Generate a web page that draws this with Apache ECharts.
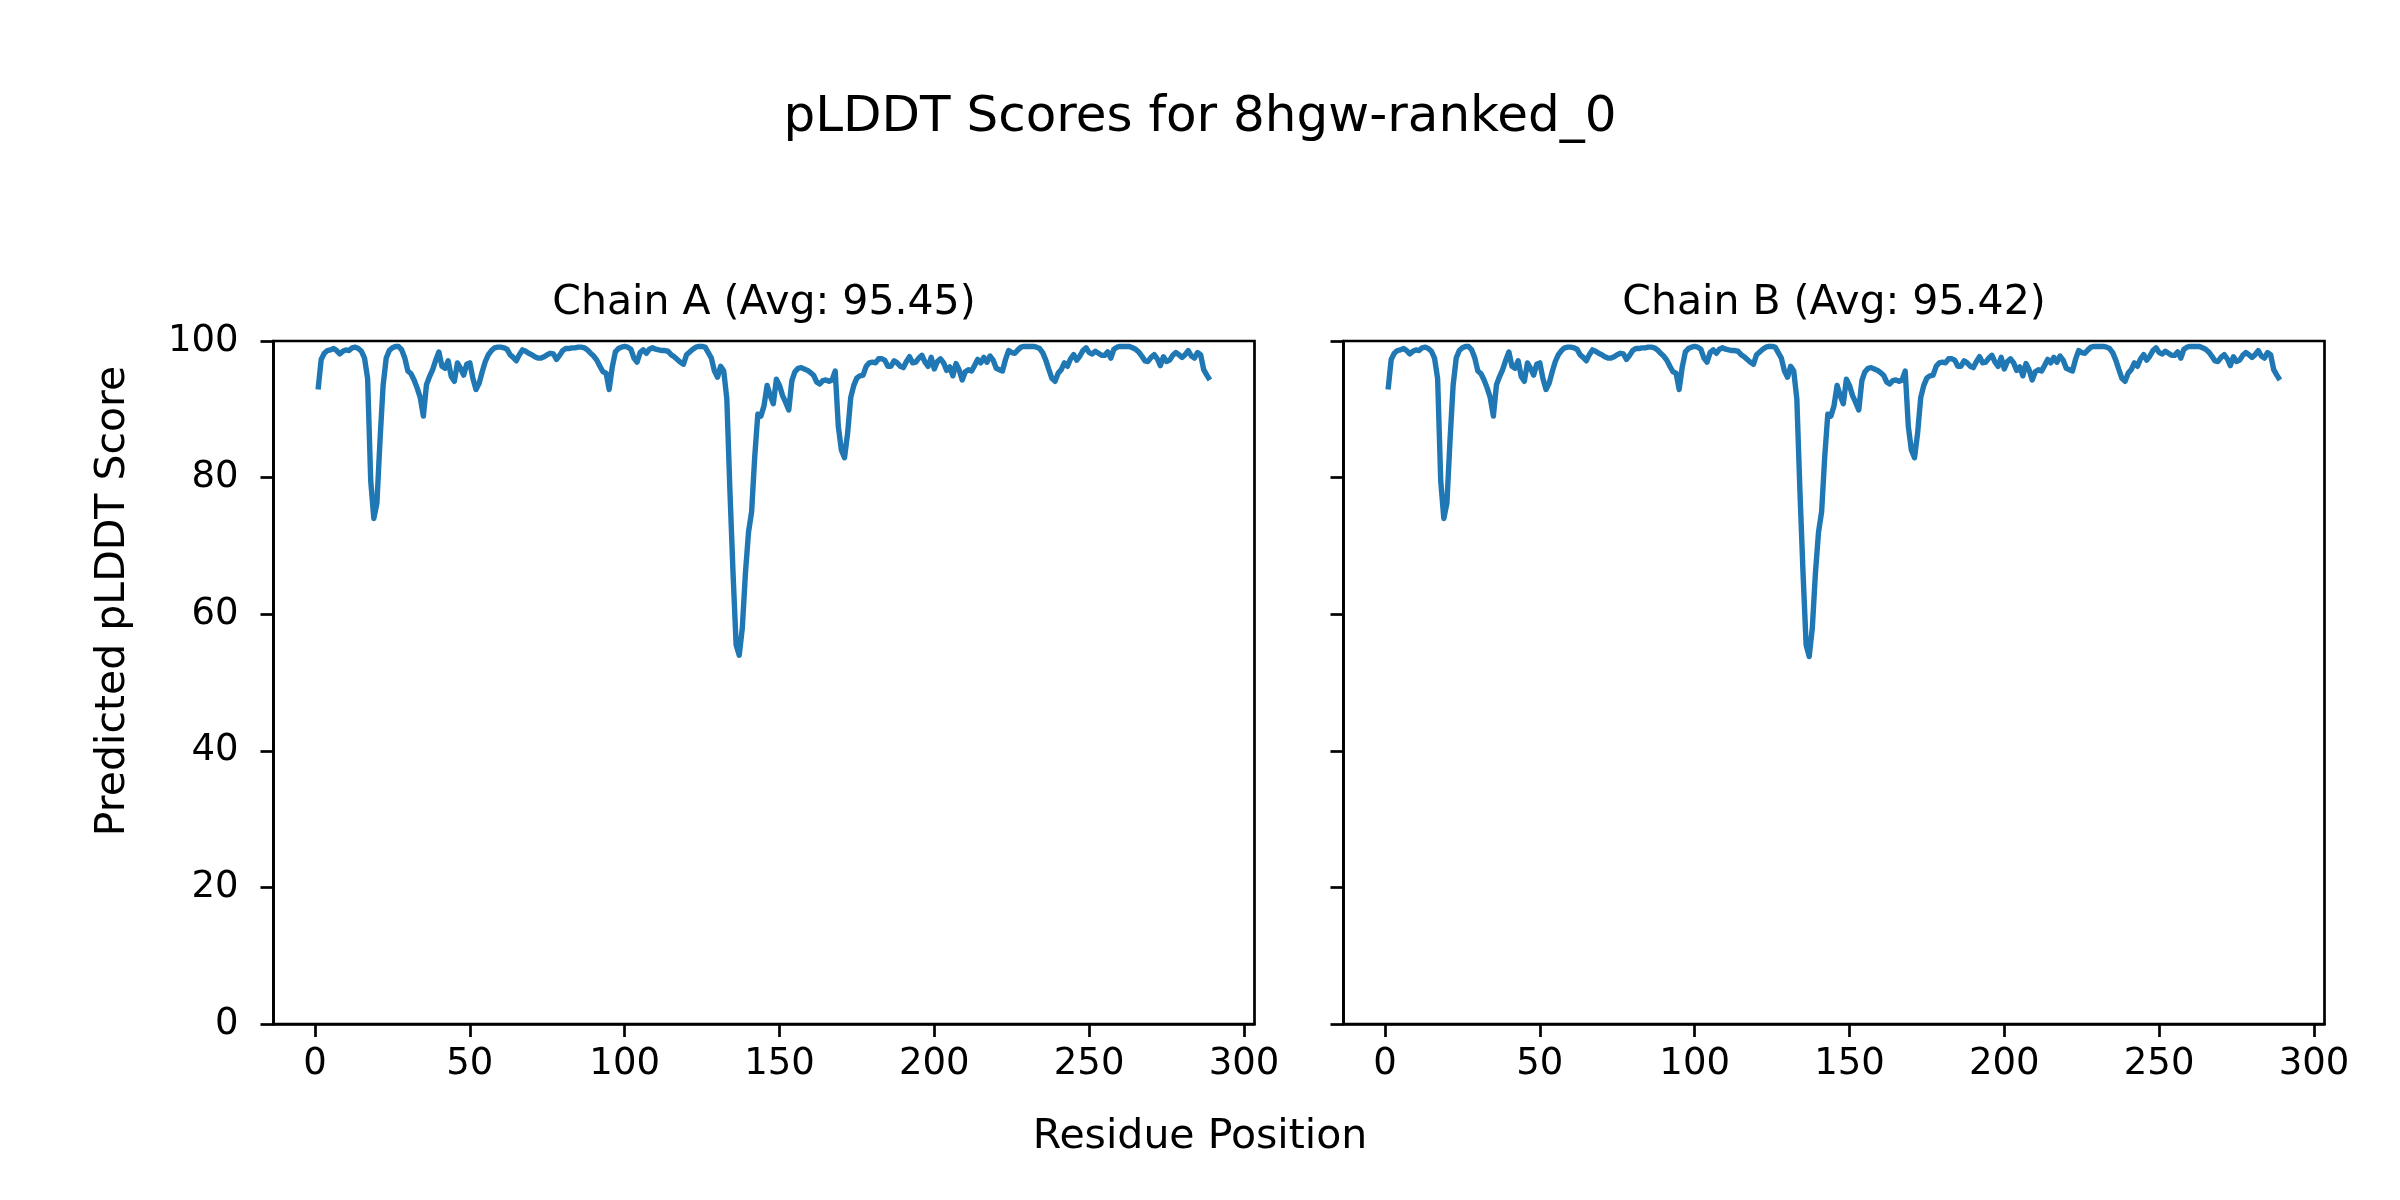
<!DOCTYPE html>
<html>
<head>
<meta charset="utf-8">
<script src="https://cdn.jsdelivr.net/npm/echarts@6/dist/echarts.min.js"></script>
<style>
  html, body { margin: 0; padding: 0; background: #ffffff; }
  #chart { width: 2400px; height: 1200px; }
</style>
</head>
<body>
<div id="chart"></div>
<script>
// ---- Data ----
const suptitle = 'pLDDT Scores for 8hgw-ranked_0';
const chainTitles = ['Chain A (Avg: 95.45)', 'Chain B (Avg: 95.42)'];
const xLabel = 'Residue Position';
const yLabel = 'Predicted pLDDT Score';
const xTicks = [0, 50, 100, 150, 200, 250, 300];
const yTicks = [0, 20, 40, 60, 80, 100];

const chainA = [
  92.9,97.3,98.2,98.6,98.7,98.9,98.6,98.1,98.5,98.7,
  98.6,99.0,99.1,98.9,98.5,97.5,94.5,79.5,74.0,76.3,
  85.5,93.5,97.5,98.6,99.0,99.2,99.2,98.7,97.5,95.6,
  95.2,94.3,93.1,91.7,89.0,93.6,94.8,95.8,97.2,98.4,
  96.3,96.0,97.1,94.8,94.1,96.8,96.0,95.0,96.6,96.8,
  94.5,92.9,93.8,95.5,97.0,98.0,98.6,99.0,99.1,99.1,
  99.0,98.8,98.0,97.6,97.1,98.0,98.7,98.5,98.2,98.0,
  97.7,97.5,97.5,97.7,98.0,98.2,98.1,97.3,97.9,98.6,
  98.9,98.9,99.0,99.0,99.1,99.1,99.0,98.7,98.2,97.8,
  97.2,96.3,95.5,95.3,92.9,96.2,98.4,98.9,99.1,99.2,
  99.1,98.8,97.5,96.9,98.3,98.7,98.2,98.8,99.0,98.8,
  98.7,98.6,98.6,98.5,98.0,97.7,97.3,96.9,96.6,98.0,
  98.4,98.8,99.1,99.2,99.2,99.1,98.3,97.5,95.6,94.7,
  96.3,95.6,91.5,78.0,66.0,55.5,54.0,58.0,66.0,72.0,
  75.0,83.0,89.3,89.0,90.5,93.5,92.0,90.8,94.4,93.5,
  92.0,91.0,89.9,94.2,95.5,96.0,96.1,95.9,95.7,95.4,
  95.0,94.0,93.7,94.2,94.3,94.1,94.3,95.6,87.5,84.0,
  82.9,86.5,91.7,93.5,94.6,94.9,95.0,96.3,96.8,96.9,
  96.8,97.4,97.4,97.2,96.3,96.3,97.1,96.8,96.3,96.1,
  97.0,97.7,96.8,96.9,97.5,97.9,96.9,96.3,97.6,95.9,
  97.0,97.4,96.8,95.7,96.2,94.9,96.7,95.8,94.3,95.5,
  95.8,95.6,96.4,97.3,96.8,97.6,96.9,97.8,97.2,96.0,
  95.8,95.6,97.3,98.6,98.3,98.2,98.7,99.1,99.2,99.2,
  99.2,99.2,99.1,98.9,98.3,97.2,95.8,94.5,94.1,95.3,
  95.8,96.8,96.3,97.4,98.0,97.2,97.8,98.6,99.0,98.3,
  98.1,98.5,98.2,97.9,97.9,98.4,97.5,98.8,99.1,99.2,
  99.2,99.2,99.2,99.0,98.8,98.4,97.8,97.1,97.0,97.6,
  98.0,97.4,96.4,97.7,97.0,97.2,97.9,98.3,98.0,97.6,
  98.0,98.6,97.8,97.5,98.3,98.0,95.8,95.0,94.3
];

const chainB = [
  92.9,97.3,98.2,98.6,98.7,98.9,98.6,98.1,98.5,98.7,
  98.6,99.0,99.1,98.9,98.5,97.5,94.5,79.5,74.0,76.3,
  85.5,93.5,97.5,98.6,99.0,99.2,99.2,98.7,97.5,95.6,
  95.2,94.3,93.1,91.7,89.0,93.6,94.8,95.8,97.2,98.4,
  96.3,96.0,97.1,94.8,94.1,96.8,96.0,95.0,96.6,96.8,
  94.5,92.9,93.8,95.5,97.0,98.0,98.6,99.0,99.1,99.1,
  99.0,98.8,98.0,97.6,97.1,98.0,98.7,98.5,98.2,98.0,
  97.7,97.5,97.5,97.7,98.0,98.2,98.1,97.3,97.9,98.6,
  98.9,98.9,99.0,99.0,99.1,99.1,99.0,98.7,98.2,97.8,
  97.2,96.3,95.5,95.3,92.9,96.2,98.4,98.9,99.1,99.2,
  99.1,98.8,97.5,96.9,98.3,98.7,98.2,98.8,99.0,98.8,
  98.7,98.6,98.6,98.5,98.0,97.7,97.3,96.9,96.6,98.0,
  98.4,98.8,99.1,99.2,99.2,99.1,98.3,97.5,95.6,94.7,
  96.3,95.6,91.5,78.0,66.0,55.5,53.8,58.0,66.0,72.0,
  75.0,83.0,89.3,89.0,90.5,93.5,92.0,90.8,94.4,93.5,
  92.0,91.0,89.9,94.2,95.5,96.0,96.1,95.9,95.7,95.4,
  95.0,94.0,93.7,94.2,94.3,94.1,94.3,95.6,87.5,84.0,
  82.9,86.5,91.7,93.5,94.6,94.9,95.0,96.3,96.8,96.9,
  96.8,97.4,97.4,97.2,96.3,96.3,97.1,96.8,96.3,96.1,
  97.0,97.7,96.8,96.9,97.5,97.9,96.9,96.3,97.6,95.9,
  97.0,97.4,96.8,95.7,96.2,94.9,96.7,95.8,94.3,95.5,
  95.8,95.6,96.4,97.3,96.8,97.6,96.9,97.8,97.2,96.0,
  95.8,95.6,97.3,98.6,98.3,98.2,98.7,99.1,99.2,99.2,
  99.2,99.2,99.1,98.9,98.3,97.2,95.8,94.5,94.1,95.3,
  95.8,96.8,96.3,97.4,98.0,97.2,97.8,98.6,99.0,98.3,
  98.1,98.5,98.2,97.9,97.9,98.4,97.5,98.8,99.1,99.2,
  99.2,99.2,99.2,99.0,98.8,98.4,97.8,97.1,97.0,97.6,
  98.0,97.4,96.4,97.7,97.0,97.2,97.9,98.3,98.0,97.6,
  98.0,98.6,97.8,97.5,98.3,98.0,95.8,95.0,94.3
];

// ---- Chart ----
const FONT = '"DejaVu Sans", "Liberation Sans", sans-serif';
const LINE_COLOR = '#1f77b4';
const toPairs = arr => arr.map((v, i) => [i + 1, v]);
const nRes = chainA.length;
const pad = (nRes - 1) * 0.05;
const xMin = 1 - pad, xMax = nRes + pad;

const grids = [
  { left: 273.5, top: 341, width: 981, height: 683 },
  { left: 1343.5, top: 341, width: 981, height: 683 }
];

function makeX(idx) {
  return {
    type: 'value', gridIndex: idx, min: xMin, max: xMax,
    splitLine: { show: false },
    axisLine: { show: true, onZero: false, lineStyle: { color: '#000', width: 2.7 } },
    axisTick: { show: true, customValues: xTicks, length: 13, lineStyle: { color: '#000', width: 2.7 } },
    axisLabel: { show: true, customValues: xTicks, margin: 22, color: '#000', fontFamily: FONT, fontSize: 37 }
  };
}
function makeY(idx, showLabels) {
  return {
    type: 'value', gridIndex: idx, min: 0, max: 100, interval: 20,
    splitLine: { show: false },
    axisLine: { show: true, onZero: false, lineStyle: { color: '#000', width: 2.7 } },
    axisTick: { show: true, length: 13, lineStyle: { color: '#000', width: 2.7 } },
    axisLabel: { show: showLabels, margin: 35, color: '#000', fontFamily: FONT, fontSize: 37 }
  };
}

const chart = echarts.init(document.getElementById('chart'), null, { renderer: 'canvas' });
chart.setOption({
  backgroundColor: '#ffffff',
  animation: false,
  grid: grids.map(g => Object.assign({ show: true, borderColor: '#000', borderWidth: 2.7, backgroundColor: 'transparent' }, g)),
  xAxis: [makeX(0), makeX(1)],
  yAxis: [makeY(0, true), makeY(1, false)],
  series: [
    { type: 'line', xAxisIndex: 0, yAxisIndex: 0, data: toPairs(chainA), showSymbol: false, symbol: 'none',
      lineStyle: { color: LINE_COLOR, width: 5.4, join: 'round', cap: 'butt' } },
    { type: 'line', xAxisIndex: 1, yAxisIndex: 1, data: toPairs(chainB), showSymbol: false, symbol: 'none',
      lineStyle: { color: LINE_COLOR, width: 5.4, join: 'round', cap: 'butt' } }
  ],
  graphic: [
    { type: 'text', x: 1200, y: 118, style: { text: suptitle, font: '50px ' + FONT, fill: '#000', textAlign: 'center', textVerticalAlign: 'middle' } },
    { type: 'text', x: 764, y: 303, style: { text: chainTitles[0], font: '41px ' + FONT, fill: '#000', textAlign: 'center', textVerticalAlign: 'middle' } },
    { type: 'text', x: 1834, y: 303, style: { text: chainTitles[1], font: '41px ' + FONT, fill: '#000', textAlign: 'center', textVerticalAlign: 'middle' } },
    { type: 'text', x: 1200, y: 1137, style: { text: xLabel, font: '41px ' + FONT, fill: '#000', textAlign: 'center', textVerticalAlign: 'middle' } },
    { type: 'text', x: 113, y: 601, rotation: Math.PI / 2, style: { text: yLabel, font: '41px ' + FONT, fill: '#000', textAlign: 'center', textVerticalAlign: 'middle' } }
  ]
});
</script>
</body>
</html>
